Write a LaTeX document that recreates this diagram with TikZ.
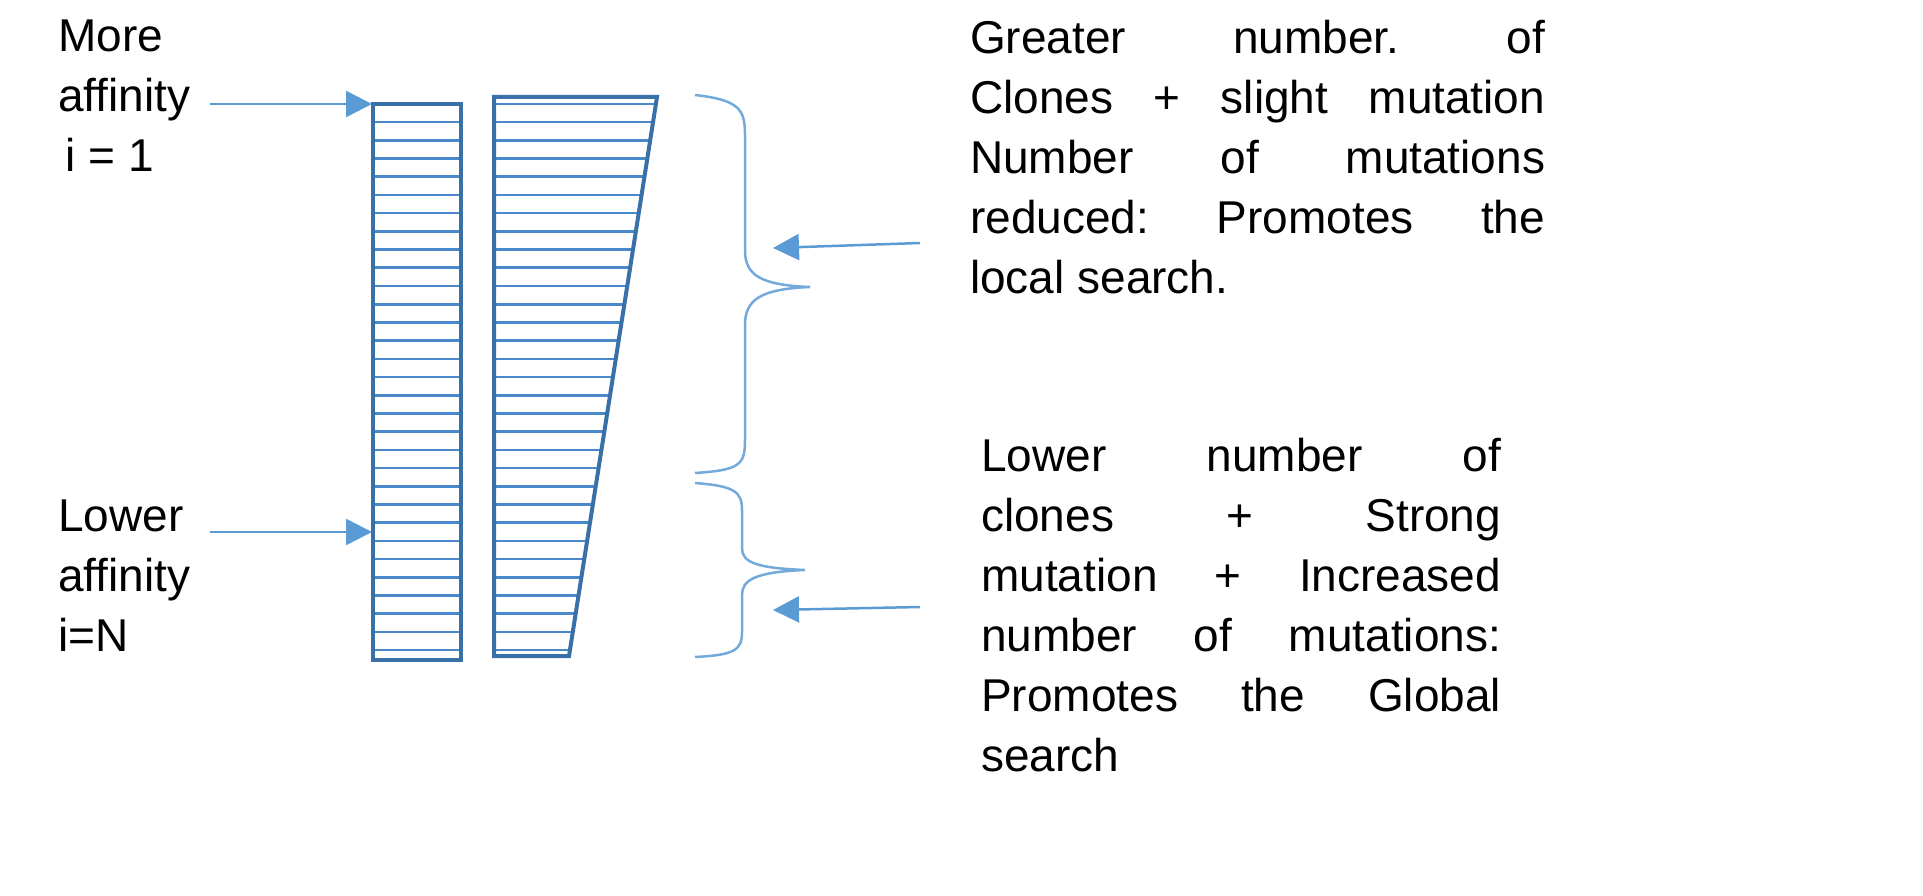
\documentclass[tikz,border=0pt]{standalone}
\usepackage{fontspec}
\setmainfont{Liberation Sans}
\usetikzlibrary{arrows.meta}
\definecolor{dk}{HTML}{3A70A8}
\definecolor{st}{HTML}{4A88CC}
\definecolor{ar}{HTML}{5B9BD5}
\newcommand{\ja}[1]{\hbox to 575pt{#1}}
\newcommand{\jb}[1]{\hbox to 520pt{#1}}
\begin{document}
\begin{tikzpicture}[x=1pt,y=-1pt,
  txt/.style={inner sep=0pt,anchor=north west,font=\fontsize{46}{60}\selectfont},
  jt/.style={txt,align=left},
  arr/.style={ar,line width=2.5pt,-{Triangle[length=26pt,width=26pt]}},
  brc/.style={ar!85,line width=2.5pt}]
\useasboundingbox (0,0) rectangle (1923,896);
% stripes
\foreach \k in {0,...,30}{
  \pgfmathsetmacro{\yy}{104+\k*18.2}
  \draw[st,line width=2.6pt] (373,\yy) -- (461,\yy);
  \pgfmathsetmacro{\xr}{657-(\yy-97)/(656-97)*(657-569)}
  \draw[st,line width=2.6pt] (494,\yy) -- (\xr,\yy);
}
\draw[dk,line width=4pt] (373,104) rectangle (461,660);
\draw[dk,line width=4pt] (494,97) -- (657,97) -- (569,656) -- (494,656) -- cycle;
\coordinate (t1) at (372,104);
\coordinate (t2) at (372,532);
\coordinate (s1) at (210,104);
\coordinate (s2) at (210,532);
\draw[arr] (s1) -- (t1);
\draw[arr] (s2) -- (t2);
% braces
\draw[brc] (695,95) .. controls (740,100) and (745,110) .. (745,135) -- (745,250)
  .. controls (745,275) and (760,285) .. (810,287)
  .. controls (760,289) and (745,300) .. (745,325) -- (745,440)
  .. controls (745,465) and (740,470) .. (695,473);
\draw[brc] (695,483) .. controls (735,486) and (742,492) .. (742,510) -- (742,548)
  .. controls (742,562) and (755,568) .. (805,570)
  .. controls (755,572) and (742,580) .. (742,595) -- (742,632)
  .. controls (742,650) and (735,655) .. (695,657);
\coordinate (r1) at (920,243);
\coordinate (r2) at (920,607);
\coordinate (q1) at (773,248);
\coordinate (q2) at (773,610);
\draw[arr] (r1) -- (q1);
\draw[arr] (r2) -- (q2);
% texts
\node[txt,align=left] (a) at (58,20) {More\\affinity\\\,i = 1};
\node[txt,align=left] (b) at (58,500) {Lower\\affinity\\i=N};
\node[jt] (c) at (970,20) {\ja{Greater\hfill number.\hfill of}\\\ja{Clones\hfill +\hfill slight\hfill mutation}\\\ja{Number\hfill of\hfill mutations}\\\ja{reduced:\hfill Promotes\hfill the}\\local search.};
\node[jt] (d) at (981,438) {\jb{Lower\hfill number\hfill of}\\\jb{clones\hfill +\hfill Strong}\\\jb{mutation\hfill +\hfill Increased}\\\jb{number\hfill of\hfill mutations:}\\\jb{Promotes\hfill the\hfill Global}\\search};
\end{tikzpicture}
\end{document}
